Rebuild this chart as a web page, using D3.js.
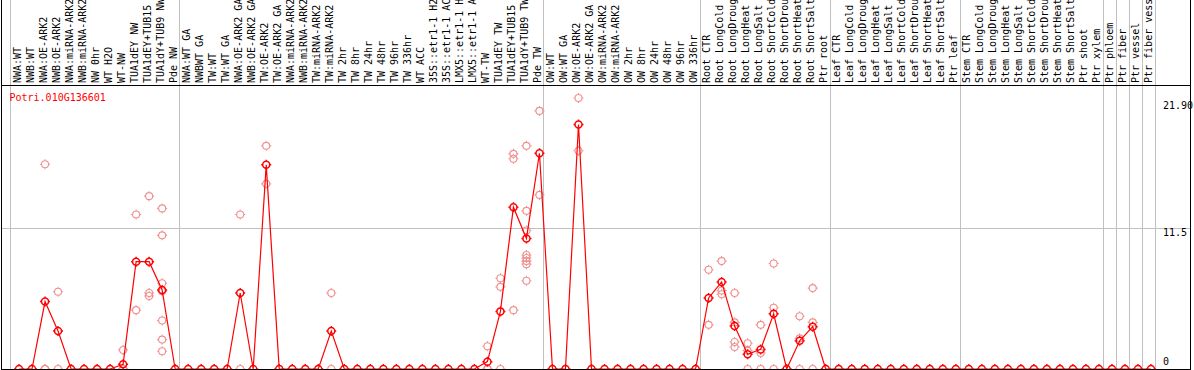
<!DOCTYPE html>
<html>
<head>
<meta charset="utf-8">
<script src="https://cdn.jsdelivr.net/npm/d3@7"></script>
<style>
  body { margin: 0; background: #fff; }
  svg { display: block; }
  text { font-family: "DejaVu Sans Mono", "Liberation Mono", monospace; }
</style>
</head>
<body>
<svg id="chart"></svg>
<script>
const geneName = "Potri.010G136601";

const sampleNames = [
  "NWA:WT", "NWB:WT", "NWA:OE-ARK2", "NWB:OE-ARK2", "NWA:miRNA-ARK2", "NWB:miRNA-ARK2",
  "NW 0hr", "WT H2O", "WT-NW", "TUA1dEY NW", "TUA1dEY+TUB15", "TUA1dY+TUB9 NW", "Pde NW",
  "NWA:WT GA", "NWBWT GA", "TW:WT", "TW:WT GA", "NWA:OE-ARK2 GA", "NWB:OE-ARK2 GA",
  "TW:OE-ARK2", "TW:OE-ARK2 GA", "NWA:miRNA-ARK2", "NWB:miRNA-ARK2", "TW:miRNA-ARK2",
  "TW:miRNA-ARK2", "TW 2hr", "TW 8hr", "TW 24hr", "TW 48hr", "TW 96hr", "TW 336hr", "WT ACC",
  "35S::etr1-1 H2O", "35S::etr1-1 ACC", "LMX5::etr1-1 H2O", "LMX5::etr1-1 ACC", "WT-TW",
  "TUA1dEY TW", "TUA1dEY+TUB15", "TUA1dY+TUB9 TW", "Pde TW",
  "OW:WT", "OW:WT GA", "OW:OE-ARK2", "OW:OE-ARK2 GA", "OW:miRNA-ARK2", "OW:miRNA-ARK2",
  "OW 2hr", "OW 8hr", "OW 24hr", "OW 48hr", "OW 96hr", "OW 336hr",
  "Root CTR", "Root LongCold", "Root LongDrought", "Root LongHeat", "Root LongSalt",
  "Root ShortCold", "Root ShortDrought", "Root ShortHeat", "Root ShortSalt", "Ptr root",
  "Leaf CTR", "Leaf LongCold", "Leaf LongDrought", "Leaf LongHeat", "Leaf LongSalt",
  "Leaf ShortCold", "Leaf ShortDrought", "Leaf ShortHeat", "Leaf ShortSalt", "Ptr leaf",
  "Stem CTR", "Stem LongCold", "Stem LongDrought", "Stem LongHeat", "Stem LongSalt",
  "Stem ShortCold", "Stem ShortDrought", "Stem ShortHeat", "Stem ShortSalt", "Ptr shoot",
  "Ptr xylem", "Ptr phloem", "Ptr fiber", "Ptr vessel", "Ptr fiber vessel"
];

// index where each group of samples ends (vertical separators)
const groupBreaks = [0, 13, 41, 53, 63, 73, 84, 85, 86, 87, 88];

// mean expression per sample
const meanValues = [
  0, 0, 5.5, 3.1, 0, 0, 0, 0, 0.38, 8.75, 8.75, 6.45, 0,
  0, 0, 0, 0, 6.2, 0, 16.65, 0, 0, 0, 0, 3.1, 0, 0, 0, 0, 0, 0, 0,
  0, 0, 0, 0, 0.6, 4.7, 13.2, 10.65, 17.6,
  0, 0, 19.95, 0, 0, 0, 0, 0, 0, 0, 0, 0,
  5.8, 7.1, 3.5, 1.2, 1.6, 4.5, 0, 2.3, 3.45, 0,
  0, 0, 0, 0, 0, 0, 0, 0, 0, 0,
  0, 0, 0, 0, 0, 0, 0, 0, 0, 0, 0,
  0, 0, 0, 0
];

// individual replicate values per sample
const replicateValues = [
  [], [], [16.7, 0, 0], [6.3, 0], [], [], [], [], [1.55, 0, 0, 0], [12.6, 4.8],
  [14.1, 6.2, 5.95], [13.1, 10.9, 7.0, 6.35, 3.95, 2.4, 1.45], [],
  [], [], [], [], [12.6, 0], [], [18.2, 15.1], [], [], [], [], [6.2, 0],
  [], [], [], [], [], [], [], [], [], [], [],
  [1.85, 0, 0], [7.4, 6.7, 0], [17.55, 17.15, 4.8],
  [18.2, 12.9, 11.3, 9.3, 9.05, 8.8, 8.55, 7.2], [21.05, 14.2],
  [], [], [22.1, 17.8], [], [], [], [], [], [], [], [], [],
  [8.1, 3.6], [8.8, 6.4, 6.1], [6.2, 3.8, 2.2, 1.8], [2.1, 1.5, 0], [3.6, 1.3, 0],
  [8.6, 5.0, 0], [], [4.3, 2.5, 0], [6.6, 3.8, 0], [],
  [], [], [], [], [], [], [], [], [], [],
  [], [], [], [], [], [], [], [], [], [], [],
  [], [], [], []
];

const yTicks = [0, 11.5, 21.9];
const yTickLabels = ["0", "11.5", "21.90"];

class ProfileChart {
  constructor(_config) {
    this.config = {
      parentElement: _config.parentElement,
      containerWidth: _config.containerWidth || 1194,
      containerHeight: _config.containerHeight || 370,
    };
    this.initVis();
  }

  initVis() {
    let vis = this;
    const W = vis.config.containerWidth;
    const H = vis.config.containerHeight;

    vis.plotTop = 85;
    vis.plotBottom = 369;
    vis.left = 1.5;
    vis.right = 1190.5;

    vis.xScale = d3.scaleBand()
      .domain(d3.range(sampleNames.length))
      .range([10.5, 1155.5]);

    vis.yScale = d3.scaleLinear()
      .domain([0, 21.9])
      .range([369, 100.5]);

    vis.svg = d3.select(vis.config.parentElement)
      .attr("width", W)
      .attr("height", H);

    vis.cx = (i) => vis.xScale(i) + 8.5;
  }

  renderVis() {
    let vis = this;
    const svg = vis.svg;

    // column separators
    svg.append("g")
      .selectAll("line")
      .data(groupBreaks)
      .join("line")
      .attr("x1", (d) => Math.round(vis.xScale.step() * d + 10) + 0.5)
      .attr("x2", (d) => Math.round(vis.xScale.step() * d + 10) + 0.5)
      .attr("y1", 0)
      .attr("y2", vis.plotBottom)
      .attr("stroke", "#c0c0c0")
      .attr("shape-rendering", "crispEdges");

    // horizontal grid
    svg.append("g")
      .selectAll("line")
      .data(yTicks.filter((t) => t > 0 && t < 21.9))
      .join("line")
      .attr("x1", vis.left)
      .attr("x2", vis.right)
      .attr("y1", (d) => Math.round(vis.yScale(d)) + 0.5)
      .attr("y2", (d) => Math.round(vis.yScale(d)) + 0.5)
      .attr("stroke", "#c0c0c0")
      .attr("shape-rendering", "crispEdges");

    // sample labels
    svg.append("g")
      .selectAll("text")
      .data(sampleNames)
      .join("text")
      .attr("transform", (d, i) => `translate(${vis.xScale(i) + 10},83) rotate(-90)`)
      .attr("font-size", "10px")
      .attr("fill", "#000")
      .text((d) => d);

    // y labels
    svg.append("g")
      .selectAll("text")
      .data(yTicks)
      .join("text")
      .attr("x", 1163)
      .attr("y", (d, i) => i === 0 ? vis.yScale(d) - 4 : vis.yScale(d) + 8)
      .attr("font-size", "10px")
      .attr("fill", "#000")
      .text((d, i) => yTickLabels[i]);

    // gene name
    svg.append("text")
      .attr("x", 9.5)
      .attr("y", 101)
      .attr("font-size", "10px")
      .attr("fill", "#ff0000")
      .text(geneName);

    const r = 3.5, t = 1.5;
    const marker = `M${r},0A${r},${r} 0 1,1 ${-r},0A${r},${r} 0 1,1 ${r},0` +
      `M0,${-r}V${-r - t}M0,${r}V${r + t}M${-r},0H${-r - t}M${r},0H${r + t}`;

    // replicates
    const reps = [];
    replicateValues.forEach((vals, i) => vals.forEach((v) => reps.push({ i, v })));
    svg.append("g")
      .selectAll("path")
      .data(reps)
      .join("path")
      .attr("transform", (d) => `translate(${vis.cx(d.i)},${vis.yScale(d.v)})`)
      .attr("d", marker)
      .attr("fill", "none")
      .attr("stroke", "#f09090")
      .attr("stroke-width", 1.1);

    // mean line
    const line = d3.line()
      .x((d, i) => vis.cx(i))
      .y((d) => vis.yScale(d));
    svg.append("path")
      .datum(meanValues)
      .attr("d", line)
      .attr("fill", "none")
      .attr("stroke", "#ff0000")
      .attr("stroke-width", 1.2);

    svg.append("g")
      .selectAll("path")
      .data(meanValues)
      .join("path")
      .attr("transform", (d, i) => `translate(${vis.cx(i)},${vis.yScale(d)})`)
      .attr("d", marker)
      .attr("fill", "none")
      .attr("stroke", "#ff0000")
      .attr("stroke-width", 1.5);

    // borders
    const border = svg.append("g")
      .attr("stroke", "#000")
      .attr("shape-rendering", "crispEdges");
    border.append("line")
      .attr("x1", vis.left).attr("x2", vis.right)
      .attr("y1", vis.plotTop + 0.5).attr("y2", vis.plotTop + 0.5);
    border.append("line")
      .attr("x1", vis.left).attr("x2", vis.right)
      .attr("y1", vis.plotBottom + 0.5).attr("y2", vis.plotBottom + 0.5)
      .attr("stroke-width", 2);
    border.append("line")
      .attr("x1", vis.left).attr("x2", vis.left)
      .attr("y1", 0).attr("y2", 370);
    border.append("line")
      .attr("x1", vis.right).attr("x2", vis.right)
      .attr("y1", 0).attr("y2", 370);
  }
}

const chart = new ProfileChart({ parentElement: "#chart" });
chart.renderVis();
</script>
</body>
</html>
